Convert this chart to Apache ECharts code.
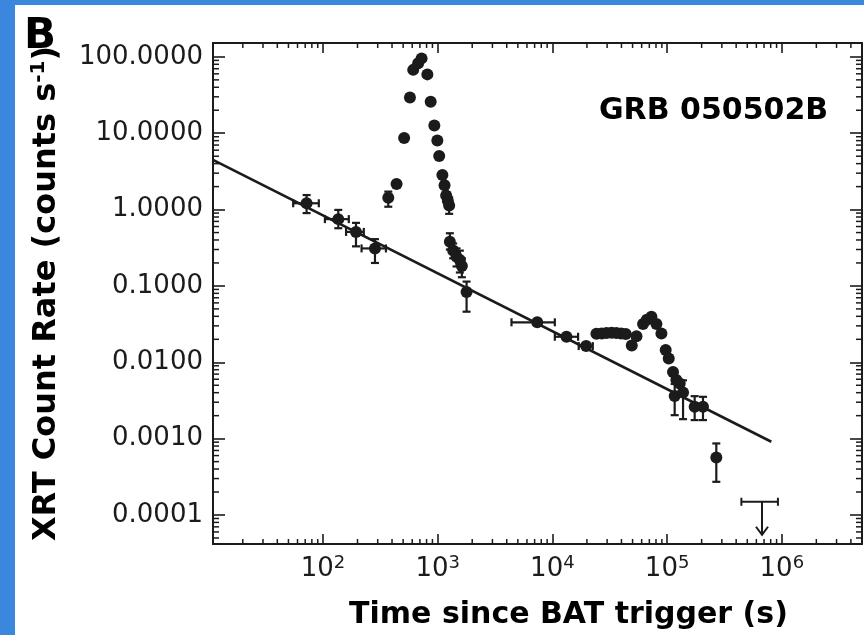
<!DOCTYPE html>
<html>
<head>
<meta charset="utf-8">
<script src="https://cdn.jsdelivr.net/npm/echarts@6/dist/echarts.min.js"></script>
<style>
  html, body { margin: 0; padding: 0; background: #ffffff; }
  #chart { width: 864px; height: 635px; }
</style>
</head>
<body>
<div id="chart"></div>
<script>
// Axis ranges (seconds, counts/s)
const xMin = 11, xMax = 5e6;
const yMin = 4.17e-5, yMax = 152;

// Tick labels
const xTickExps = [2, 3, 4, 5, 6];
const yTickExps = [-4, -3, -2, -1, 0, 1, 2];
const yTickLabels = ['0.0001', '0.0010', '0.0100', '0.1000', '1.0000', '10.0000', '100.0000'];

// XRT light curve: time since trigger (s) and count rate (counts/s)
const obsTime = [
  72, 136, 194, 284, 371, 438, 510, 573, 612, 676,
  724, 813, 869, 935, 993, 1031, 1099, 1148, 1186, 1227,
  1259, 1277, 1364, 1461, 1561, 1625, 1786, 7380, 13270, 19680,
  24200, 26900, 29600, 32800, 36100, 39700, 43600, 49200, 54100, 61700,
  66500, 73000, 80700, 89200, 97200, 103300, 112600, 120500, 128800, 116400,
  137700, 173900, 205500, 268500
];
const obsRate = [
  1.21, 0.75, 0.51, 0.31, 1.43, 2.17, 8.67, 29.3, 67.6, 82.6,
  95.6, 59, 25.9, 12.6, 8.05, 5.03, 2.84, 2.08, 1.53, 1.30,
  1.13, 0.379, 0.291, 0.242, 0.218, 0.182, 0.0832, 0.0334, 0.0216, 0.0163,
  0.0236, 0.0239, 0.0241, 0.0243, 0.0241, 0.0238, 0.0234, 0.0166, 0.0220, 0.0317,
  0.0360, 0.0394, 0.0317, 0.0239, 0.0145, 0.0112, 0.00745, 0.00585, 0.00529, 0.00361,
  0.00401, 0.00261, 0.00261, 0.000567
];
// Time bin edges (null where the bin is narrower than the marker)
const timeLo = [
  55, 104, 159, 217, null, null, null, null, null, null,
  null, null, null, null, null, null, null, null, null, null,
  null, null, null, null, null, null, null, 4400, 10500, 16960,
  null, null, null, null, null, null, null, null, null, null,
  null, null, null, null, null, null, null, null, null, null,
  null, null, null, null
];
const timeHi = [
  92, 168, 227, 354, null, null, null, null, null, null,
  null, null, null, null, null, null, null, null, null, null,
  null, null, null, null, null, null, null, 10500, 16750, 22500,
  null, null, null, null, null, null, null, null, null, null,
  null, null, null, null, null, null, null, null, null, null,
  null, null, null, null
];
// Rate uncertainties (lower / upper)
const rateLo = [
  0.90, 0.57, 0.33, 0.20, 1.09, null, null, null, null, null,
  null, null, null, null, null, null, null, null, null, null,
  0.88, 0.30, 0.23, 0.18, 0.15, 0.13, 0.046, null, null, null,
  null, null, null, null, null, null, null, null, null, null,
  null, null, null, null, null, null, null, null, null, 0.00203,
  0.0018, 0.00175, 0.00175, 0.000272
];
const rateHi = [
  1.55, 0.99, 0.67, 0.41, 1.72, null, null, null, null, null,
  null, null, null, null, null, null, null, null, null, null,
  1.45, 0.49, 0.36, 0.31, 0.29, 0.23, 0.114, null, null, null,
  null, null, null, null, null, null, null, null, null, null,
  null, null, null, null, null, null, null, null, null, 0.0052,
  0.0058, 0.0036, 0.00353, 0.000865
];

// Late-time upper limit
const limitTime = [6.72e5];
const limitTimeLo = [4.44e5];
const limitTimeHi = [9.25e5];
const limitRate = [1.49e-4];

// Underlying power-law decay (end points)
const fitTime = [11, 8.1e5];
const fitRate = [4.47, 9.1e-4];

const ink = '#1b1b1b';
const font = 'DejaVu Sans';

function isPow10(v, list) {
  const l = Math.log10(v);
  const e = Math.round(l);
  if (Math.abs(l - e) > 1e-6) return null;
  return list.indexOf(e) < 0 ? null : e;
}
function xLabel(v) {
  const e = isPow10(v, xTickExps);
  return e === null ? '' : '{b|10}{s|' + e + '}';
}
function yLabel(v) {
  const e = isPow10(v, yTickExps);
  return e === null ? '' : yTickLabels[yTickExps.indexOf(e)];
}

const pointData = obsTime.map((t, i) => [t, obsRate[i]]);
const errData = obsTime.map((t, i) => [
  t, obsRate[i],
  timeLo[i] == null ? '-' : timeLo[i],
  timeHi[i] == null ? '-' : timeHi[i],
  rateLo[i] == null ? '-' : rateLo[i],
  rateHi[i] == null ? '-' : rateHi[i]
]);
const fitData = fitTime.map((t, i) => [t, fitRate[i]]);
const limitData = limitTime.map((t, i) => [t, limitRate[i], limitTimeLo[i], limitTimeHi[i]]);

// Minor ticks at 2..9 x 10^n on both axes
const minorData = [];
for (let e = -6; e <= 7; e++) {
  for (let k = 2; k <= 9; k++) {
    const v = k * Math.pow(10, e);
    if (v > xMin && v < xMax) minorData.push([v, yMin, 0]);
    if (v > yMin && v < yMax) minorData.push([xMin, v, 1]);
  }
}

const ok = v => typeof v === 'number' && isFinite(v) && v > 0;
const barStyle = { stroke: ink, lineWidth: 2.2 };

function renderErr(params, api) {
  const t = api.value(0), r = api.value(1);
  const c = api.coord([t, r]);
  const tl = api.value(2), th = api.value(3), rl = api.value(4), rh = api.value(5);
  const cap = 4;
  const kids = [];
  if (ok(tl) && ok(th)) {
    const a = api.coord([tl, r])[0], b = api.coord([th, r])[0];
    kids.push({ type: 'line', shape: { x1: a, y1: c[1], x2: b, y2: c[1] }, style: barStyle });
    kids.push({ type: 'line', shape: { x1: a, y1: c[1] - cap, x2: a, y2: c[1] + cap }, style: barStyle });
    kids.push({ type: 'line', shape: { x1: b, y1: c[1] - cap, x2: b, y2: c[1] + cap }, style: barStyle });
  }
  if (ok(rl) && ok(rh)) {
    const a = api.coord([t, rl])[1], b = api.coord([t, rh])[1];
    kids.push({ type: 'line', shape: { x1: c[0], y1: a, x2: c[0], y2: b }, style: barStyle });
    kids.push({ type: 'line', shape: { x1: c[0] - cap, y1: a, x2: c[0] + cap, y2: a }, style: barStyle });
    kids.push({ type: 'line', shape: { x1: c[0] - cap, y1: b, x2: c[0] + cap, y2: b }, style: barStyle });
  }
  return { type: 'group', children: kids };
}

function renderLimit(params, api) {
  const t = api.value(0), r = api.value(1);
  const c = api.coord([t, r]);
  const a = api.coord([api.value(2), r])[0], b = api.coord([api.value(3), r])[0];
  const cap = 4, len = 33, head = 6;
  const st = { stroke: ink, lineWidth: 2, fill: null };
  return { type: 'group', children: [
    { type: 'line', shape: { x1: a, y1: c[1], x2: b, y2: c[1] }, style: st },
    { type: 'line', shape: { x1: a, y1: c[1] - cap, x2: a, y2: c[1] + cap }, style: st },
    { type: 'line', shape: { x1: b, y1: c[1] - cap, x2: b, y2: c[1] + cap }, style: st },
    { type: 'line', shape: { x1: c[0], y1: c[1], x2: c[0], y2: c[1] + len }, style: st },
    { type: 'polyline', shape: { points: [[c[0] - head, c[1] + len - 8], [c[0], c[1] + len], [c[0] + head, c[1] + len - 8]] }, style: st }
  ] };
}

function renderMinor(params, api) {
  const cs = params.coordSys;
  const c = api.coord([api.value(0), api.value(1)]);
  const kind = api.value(2);
  const st = { stroke: ink, lineWidth: 1.5 };
  if (kind === 0) {
    const yb = cs.y + cs.height, yt = cs.y, L = 5;
    return { type: 'group', children: [
      { type: 'line', shape: { x1: c[0], y1: yb, x2: c[0], y2: yb - L }, style: st },
      { type: 'line', shape: { x1: c[0], y1: yt, x2: c[0], y2: yt + L }, style: st }
    ] };
  }
  const xl = cs.x, xr = cs.x + cs.width, L = 6;
  return { type: 'group', children: [
    { type: 'line', shape: { x1: xl, y1: c[1], x2: xl + L, y2: c[1] }, style: st },
    { type: 'line', shape: { x1: xr, y1: c[1], x2: xr - L, y2: c[1] }, style: st }
  ] };
}

const axisLine = { show: true, onZero: false, lineStyle: { color: ink, width: 2 } };

const option = {
  animation: false,
  backgroundColor: '#ffffff',
  grid: { left: 213, right: 2, top: 43, bottom: 91, containLabel: false, outerBoundsMode: 'none' },
  graphic: [
    { type: 'rect', silent: true, shape: { x: 0, y: 0, width: 15, height: 635 }, style: { fill: '#3a87dd' } },
    { type: 'rect', silent: true, shape: { x: 0, y: 0, width: 864, height: 5 }, style: { fill: '#3a87dd' } },
    { type: 'text', silent: true, left: 24, top: 16,
      style: { text: 'B', font: 'bold 42px "DejaVu Sans"', fill: '#000' } },
    { type: 'text', silent: true, left: 599, top: 96,
      style: { text: 'GRB 050502B', font: 'bold 30px "DejaVu Sans"', fill: '#000' } }
  ],
  xAxis: [
    {
      type: 'log', logBase: 10, min: xMin, max: xMax, position: 'bottom',
      axisLine: axisLine,
      axisTick: { show: true, inside: true, length: 10, lineStyle: { color: ink, width: 1.6 } },
      axisLabel: {
        formatter: xLabel, margin: 10, color: ink,
        rich: {
          b: { fontSize: 26, fontFamily: font, color: ink, lineHeight: 30 },
          s: { fontSize: 18, fontFamily: font, color: ink, lineHeight: 16, verticalAlign: 'top' }
        }
      },
      splitLine: { show: false },
      name: 'Time since BAT trigger (s)', nameLocation: 'middle', nameGap: 56,
      nameTextStyle: { fontSize: 30, fontWeight: 'bold', fontFamily: font, color: '#000', padding: [0, 0, 0, 62] }
    },
    {
      type: 'log', logBase: 10, min: xMin, max: xMax, position: 'top',
      axisLine: axisLine,
      axisTick: { show: true, inside: true, length: 10, lineStyle: { color: ink, width: 1.6 } },
      axisLabel: { show: false },
      splitLine: { show: false }
    }
  ],
  yAxis: [
    {
      type: 'log', logBase: 10, min: yMin, max: yMax, position: 'left',
      axisLine: axisLine,
      axisTick: { show: true, inside: true, length: 12, lineStyle: { color: ink, width: 1.6 } },
      axisLabel: { formatter: yLabel, margin: 10, fontSize: 26, fontFamily: font, color: ink },
      splitLine: { show: false },
      name: '{a|XRT Count Rate (counts s}{s|-1}{a|)}', nameLocation: 'middle', nameGap: 148, nameRotate: 90,
      nameTextStyle: {
        rich: {
          a: { fontSize: 32, fontWeight: 'bold', fontFamily: font, color: '#000', lineHeight: 36 },
          s: { fontSize: 20, fontWeight: 'bold', fontFamily: font, color: '#000', lineHeight: 20, verticalAlign: 'top' }
        }
      }
    },
    {
      type: 'log', logBase: 10, min: yMin, max: yMax, position: 'right',
      axisLine: axisLine,
      axisTick: { show: true, inside: true, length: 12, lineStyle: { color: ink, width: 1.6 } },
      axisLabel: { show: false },
      splitLine: { show: false }
    }
  ],
  series: [
    {
      type: 'custom', name: 'minor ticks', coordinateSystem: 'cartesian2d', silent: true,
      encode: { x: 0, y: 1 }, clip: false, renderItem: renderMinor, data: minorData, z: 5
    },
    {
      type: 'line', name: 'power law', data: fitData, symbol: 'none', silent: true,
      lineStyle: { color: ink, width: 2.6 }, z: 2
    },
    {
      type: 'custom', name: 'errors', coordinateSystem: 'cartesian2d', silent: true,
      encode: { x: 0, y: 1 }, renderItem: renderErr, data: errData, z: 3
    },
    {
      type: 'scatter', name: 'XRT', data: pointData, symbol: 'circle', symbolSize: 12, silent: true,
      itemStyle: { color: ink, opacity: 1 }, z: 4
    },
    {
      type: 'custom', name: 'upper limit', coordinateSystem: 'cartesian2d', silent: true,
      encode: { x: 0, y: 1 }, renderItem: renderLimit, data: limitData, z: 3
    }
  ]
};

const chart = echarts.init(document.getElementById('chart'));
chart.setOption(option);
</script>
</body>
</html>
